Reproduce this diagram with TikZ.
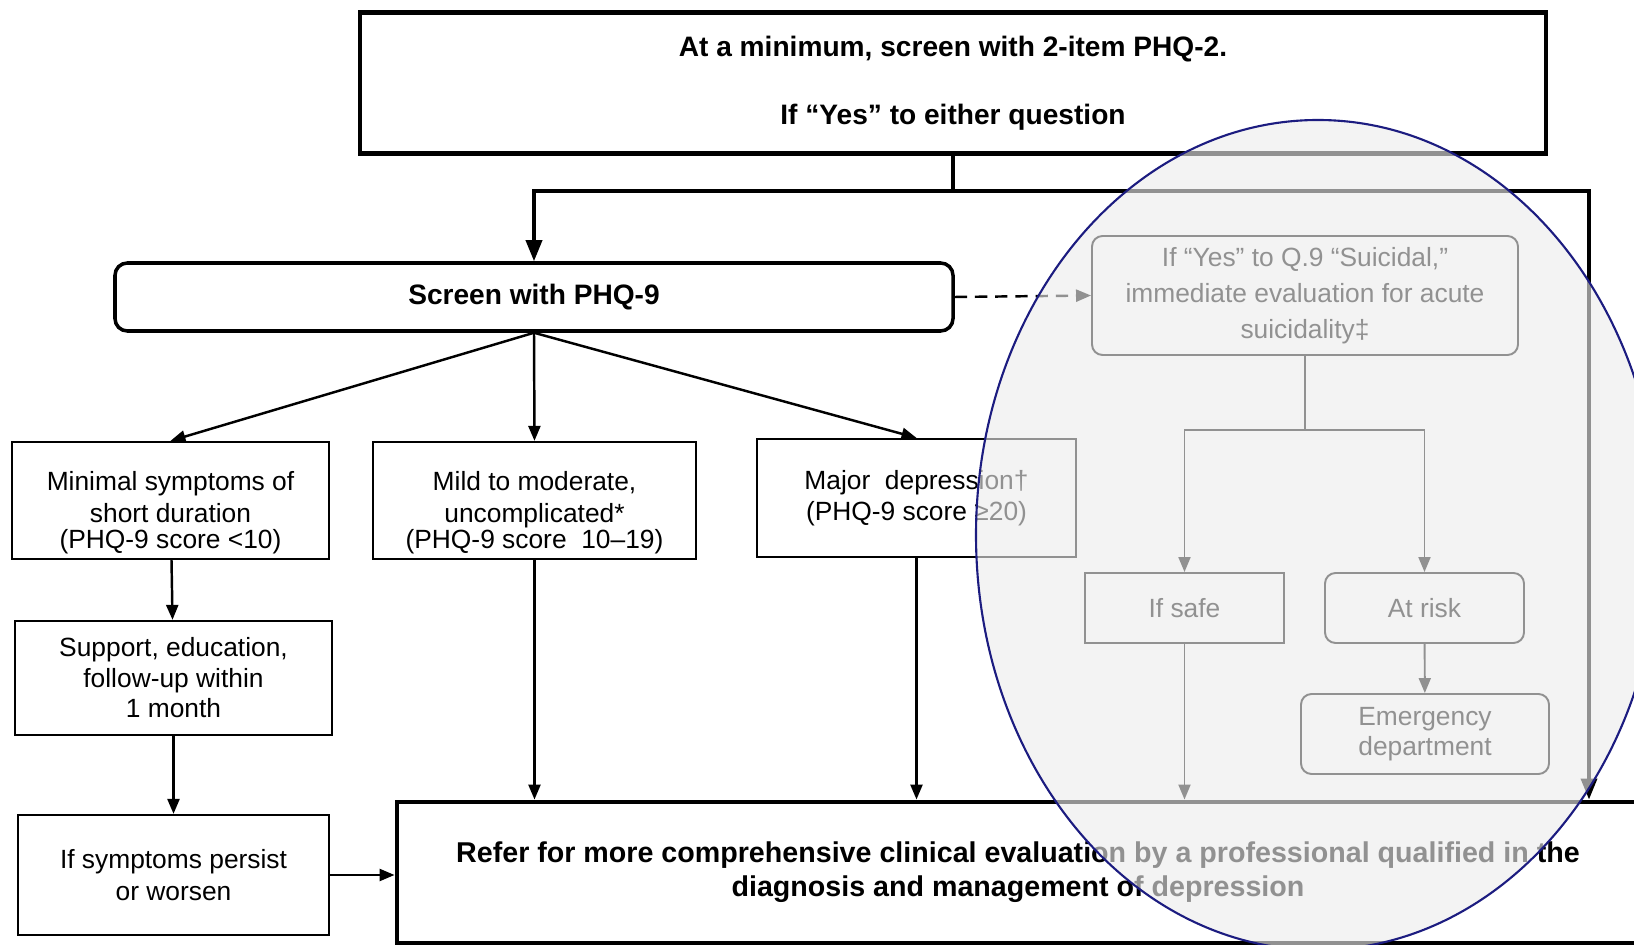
\documentclass[tikz,border=0pt]{standalone}
\usepackage{fontspec}
\setmainfont{Liberation Sans}
\usetikzlibrary{arrows.meta,calc}
\definecolor{navy}{RGB}{28,28,128}

\begin{document}
\begin{tikzpicture}[x=0.02cm,y=-0.02cm,
  box/.style={draw,line width=1.3pt,align=center,inner sep=0pt,
    font=\fontsize{15}{18}\selectfont},
  softbox/.style={box,line width=1.1pt,rounded corners=6pt},
  headbox/.style={draw,line width=2.3pt,align=center,inner sep=0pt,
    font=\fontsize{16}{19.2}\bfseries\selectfont},
  arr/.style={-{Triangle[length=0.3cm,width=0.24cm]},line width=1.4pt},
  fatarr/.style={-{Triangle[length=0.42cm,width=0.32cm]},line width=2pt}]
\def\px{0.02cm}
\def\lift{\rule{0pt}{25pt}}

\useasboundingbox (0,0) rectangle (1634,945);

\node[headbox,minimum width=1186*\px,minimum height=141*\px] (phq2) at (953,83)
  {At a minimum, screen with 2-item PHQ-2.\\[19.5pt] If “Yes” to either question};
\node[headbox,line width=2pt,rounded corners=7pt,minimum width=838*\px,minimum height=68*\px] (phq9) at (534,297) {Screen with PHQ-9};
\node[softbox,minimum width=426*\px,minimum height=119*\px,font=\fontsize{15}{20.4}\selectfont] (suicide) at (1305,295.5)
  {If “Yes” to Q.9 “Suicidal,”\\ immediate evaluation for acute\\ suicidality‡};

\node[box,minimum width=317*\px,minimum height=117*\px] (minimal) at (170.5,500.5)
  {\lift Minimal symptoms of\\ short duration\\[-3pt] (PHQ-9 score <10)};
\node[box,minimum width=323*\px,minimum height=117*\px] (mild) at (534.5,500.5)
  {\lift Mild to moderate,\\ uncomplicated*\\[-3pt] (PHQ-9 score\ \ 10–19)};
\node[box,minimum width=319*\px,minimum height=118*\px] (major) at (916.5,498)
  {Major\ \ depression†\\ (PHQ-9 score ≥20)};
\node[box,minimum width=317*\px,minimum height=114*\px,font=\fontsize{15}{17.4}\selectfont] (support) at (173.5,678)
  {Support, education,\\ follow-up within\\ 1 month};
\node[box,minimum width=311*\px,minimum height=120*\px] (persist) at (173.5,875)
  {If symptoms persist\\ or worsen};

\node[box,line width=1.1pt,minimum width=199*\px,minimum height=70*\px] (safe) at (1184.5,608) {If safe};
\node[softbox,minimum width=199*\px,minimum height=70*\px] (risk) at (1424.5,608) {At risk};
\node[softbox,minimum width=248*\px,minimum height=80*\px,font=\fontsize{15}{17}\selectfont] (er) at (1425,734) {Emergency\\ department};

\node[headbox,line width=2.8pt,minimum width=1242*\px,minimum height=141*\px,font=\fontsize{16.3}{19.4}\bfseries\selectfont] (refer) at (1018,872.5)
  {Refer for more comprehensive clinical evaluation by a professional qualified in the\\ diagnosis and management of depression};

\coordinate (split) at (953,191);
\coordinate (corner) at (1589,191);
\coordinate (fork) at (1305,430);

% from the PHQ-2 box
\draw[line width=2pt] (phq2.south) -- (split);
\draw[fatarr] (split) -| (phq9.north);
\draw[fatarr] (split) -- (corner) -- (corner |- refer.north);
\draw[arr,dash pattern=on 7pt off 4.5pt] (phq9.east) -- (suicide.west);

% PHQ-9 results
\draw[arr] (phq9.south) -- (minimal.north);
\draw[arr] (phq9.south) -- (mild.north);
\draw[arr] (phq9.south) -- (major.north);
\draw[arr] (minimal) -- (support);
\draw[arr] (support) -- (persist);
\draw[arr] (persist.east) -- (persist.east -| refer.west);
\draw[arr] (mild) -- (mild |- refer.north);
\draw[arr] (major) -- (major |- refer.north);

% suicidality
\draw[line width=1.1pt] (suicide.south) -- (fork);
\draw[arr,line width=1.1pt] (fork) -| (safe.north);
\draw[arr,line width=1.1pt] (fork) -| (risk.north);
\draw[arr,line width=1.1pt] (risk) -- (er);
\draw[arr,line width=1.1pt] (safe) -- (safe |- refer.north);

% highlight
\filldraw[fill=black!8,fill opacity=.62,draw=navy,line width=1.2pt]
  (1318,535) ellipse [x radius=342,y radius=415];

\end{tikzpicture}
\end{document}
